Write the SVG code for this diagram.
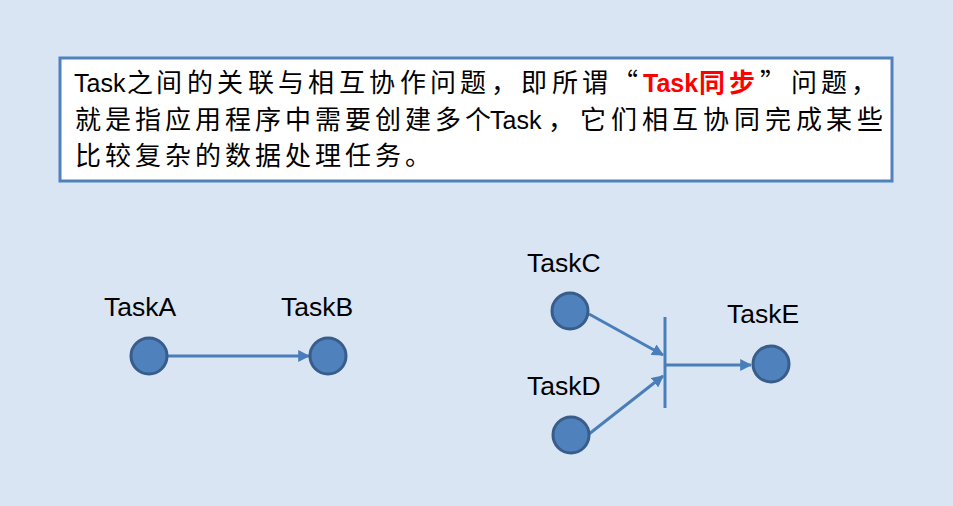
<svg xmlns="http://www.w3.org/2000/svg" width="953" height="506" viewBox="0 0 953 506">
<style>
.node{fill:#4f81bd;stroke:#385d8a;stroke-width:3}
.lbl{font-family:"Liberation Sans","Noto Sans CJK SC",sans-serif;font-size:26.5px;fill:#000}
.main{font-family:"Liberation Sans","Noto Sans CJK SC",sans-serif;font-size:25px;fill:#000}
.cjk{font-family:"Noto Sans CJK SC",sans-serif;font-size:26px}
.red{fill:#ff0000;font-weight:bold}
.edge{stroke:#4a7ebb;stroke-width:3;fill:none}
</style>
<defs>
<marker id="ah" viewBox="0 0 10 10" refX="9" refY="5" markerWidth="4" markerHeight="4" orient="auto" markerUnits="strokeWidth">
<path d="M0,0 L10,5 L0,10 z" fill="#4a7ebb"/>
</marker>
</defs>
<rect width="953" height="506" fill="#dae5f3"/>
<g id="textbox">
<rect x="60" y="58" width="832" height="123" fill="#fff" stroke="#4f81bd" stroke-width="3"/>
<text class="main" y="92"><tspan x="74">Task</tspan><tspan class="cjk" x="127 156 187 217 248 278 308 339 369 400 430 460 491 521 552 582">之间的关联与相互协作问题，即所谓</tspan><tspan class="cjk" x="612">“</tspan><tspan class="red" x="643">Task</tspan><tspan class="cjk red" x="699 729">同步</tspan><tspan class="cjk" x="760">”</tspan><tspan class="cjk" x="791 821 851">问题，</tspan></text>
<text class="main" y="128.5"><tspan class="cjk" x="75 105 135 165 195 225 255 285 315 345 375 405 435 465">就是指应用程序中需要创建多个</tspan><tspan x="490">Task</tspan><tspan class="cjk" x="548 580 611 642 672 703 734 765 796 826 857">，它们相互协同完成某些</tspan></text>
<text class="main" y="164.5"><tspan class="cjk" x="75 105 135 165 195 225 255 285 315 345 375 405">比较复杂的数据处理任务。</tspan></text>
</g>
<g id="connectors">
<line class="edge" x1="167" y1="356" x2="309" y2="356" marker-end="url(#ah)"/>
<line class="edge" x1="589" y1="314" x2="663" y2="355" marker-end="url(#ah)"/>
<line class="edge" x1="589" y1="434" x2="663" y2="376" marker-end="url(#ah)"/>
<line class="edge" x1="665" y1="365" x2="751" y2="365" marker-end="url(#ah)"/>
<line x1="665" y1="317" x2="665" y2="408" stroke="#4a7ebb" stroke-width="3"/>
</g>
<g id="taskA"><circle class="node" cx="149" cy="356" r="18"/><text class="lbl" x="104" y="316">TaskA</text></g>
<g id="taskB"><circle class="node" cx="328" cy="356" r="18"/><text class="lbl" x="281" y="316">TaskB</text></g>
<g id="taskC"><circle class="node" cx="570" cy="311" r="18"/><text class="lbl" x="527" y="272">TaskC</text></g>
<g id="taskD"><circle class="node" cx="571" cy="435" r="18"/><text class="lbl" x="527" y="395">TaskD</text></g>
<g id="taskE"><circle class="node" cx="771" cy="364" r="18"/><text class="lbl" x="727" y="323">TaskE</text></g>
</svg>
